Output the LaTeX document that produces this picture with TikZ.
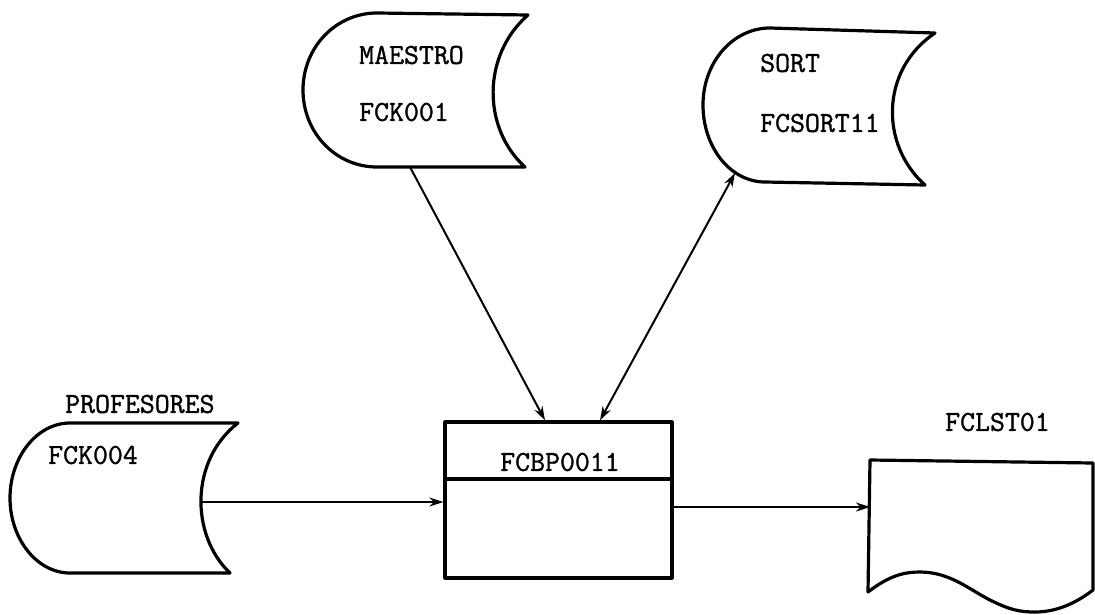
\documentclass[tikz,border=0pt]{standalone}
\usepackage{fontspec}
\newfontfamily\typew{Latin Modern Mono}[FakeBold=1.2]
\usetikzlibrary{arrows.meta}
\begin{document}
\begin{tikzpicture}[x=1pt,y=-1pt,
  shapeline/.style={line width=3.2pt,line join=round},
  conn/.style={line width=2pt,-{Stealth[length=14pt,width=9pt]}},
  lbl/.style={font=\fontsize{29}{32}\typew,inner sep=0pt,anchor=west}]
\useasboundingbox (0,0) rectangle (1095,614);
% MAESTRO / FCK001 (stored data)
\draw[shapeline] (377,13) -- (528,15)
  .. controls (482,55) and (482,128) .. (525,167) -- (377,167)
  .. controls (336,167) and (303,133) .. (303,90)
  .. controls (303,47) and (336,13) .. (377,13) -- cycle;
\node[lbl] (maestro) at (359,55) {MAESTRO};
\node[lbl] (fck001) at (359,112) {FCK001};
\coordinate (maestroOut) at (410,167);
% SORT / FCSORT11
\draw[shapeline] (770,28) -- (935,33)
  .. controls (880,70) and (880,145) .. (925,185) -- (765,182)
  .. controls (731,182) and (703,148) .. (703,105)
  .. controls (703,62) and (733,28) .. (770,28) -- cycle;
\node[lbl] (sort) at (760,63) {SORT};
\node[lbl] (fcsort) at (760,123) {FCSORT11};
\coordinate (sortIO) at (735,173);
% PROFESORES / FCK004
\draw[shapeline] (70,423) -- (238,423)
  .. controls (190,460) and (190,535) .. (230,573) -- (70,573)
  .. controls (37,573) and (10,539) .. (10,498)
  .. controls (10,457) and (37,423) .. (70,423) -- cycle;
\node[lbl] (prof) at (65,404) {PROFESORES};
\node[lbl] (fck004) at (48,455) {FCK004};
\coordinate (profOut) at (200,502);
% Process box FCBP0011
\node[shapeline,draw,minimum width=227pt,minimum height=156pt,inner sep=0pt] (box) at (558.5,500) {};
\draw[shapeline] (box.west |- 0,479) -- (box.east |- 0,479);
\node[font=\fontsize{29}{32}\typew,inner sep=0pt] (fcbp) at (560,462) {FCBP0011};
% Report FCLST01 (document)
\draw[shapeline] (868,592) -- (870,460) -- (1093,463) -- (1093,590)
  .. controls (1080,600) and (1060,612) .. (1035,612)
  .. controls (1020,612) and (1010,610) .. (990,600)
  .. controls (970,590) and (950,572) .. (920,572)
  .. controls (905,572) and (890,575) .. (868,592) -- cycle;
\node[lbl] (fclst) at (945,422) {FCLST01};
\coordinate (docIn) at (870,507);
% connectors
\draw[conn] (maestroOut) -- (box.north -| 545,0);
\draw[conn,{Stealth[length=14pt,width=9pt]}-{Stealth[length=14pt,width=9pt]}] (box.north -| 600,0) -- (sortIO);
\draw[conn] (profOut) -- (box.west |- 0,502);
\draw[conn] (box.east |- 0,507) -- (docIn);
\end{tikzpicture}
\end{document}
